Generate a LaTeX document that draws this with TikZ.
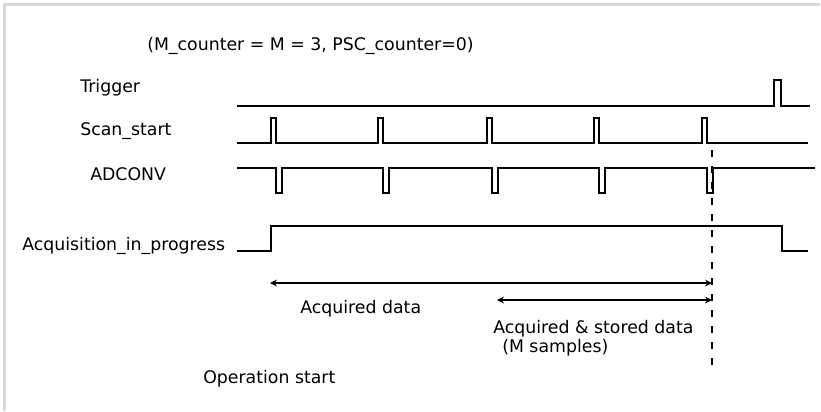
\documentclass[tikz,border=0pt]{standalone}
\usepackage{fontspec}
\setmainfont{DejaVu Sans}
\begin{document}
\begin{tikzpicture}[x=0.75pt,y=-0.75pt,
    wave/.style={line width=1.3pt,line join=miter},
    lbl/.style={anchor=base west,inner sep=0pt},
    span/.style={line width=1.3pt,<->,>=stealth},
    marker/.style={line width=1.3pt,dash pattern=on 5pt off 7pt}]
                        \useasboundingbox (0,0) rectangle (821,411);
                        {\fontsize{13}{15}\selectfont

                        % Drawing frame
                        \fill [gray!30] (3,3) rectangle (820,6);%
                        \fill [gray!30] (3,3) rectangle (6,411);%

                        % Marking title
                        \draw (147,50) node (title) [lbl] {(M\_counter = M = 3, PSC\_counter=0)};%

                        % Marking signal names
                        \draw (80,92) node (trigname) [lbl] {Trigger};%
                        \draw (80,135) node (scanname) [lbl] {Scan\_start};%
                        \draw (90,180) node (adcname) [lbl] {ADCONV};%
                        \draw (22,250) node (acqname) [lbl] {Acquisition\_in\_progress};%

                        % Drawing line Trigger
                        \draw [wave] (237,106) -- (774,106) -- (774,80) -- (781,80) -- (781,106) -- (810,106);%

                        % Drawing line Scan_start
                        \draw [wave] (237,143) -- (271,143) -- (271,118) -- (276,118) -- (276,143)
                            -- (378,143) -- (378,118) -- (383,118) -- (383,143)
                            -- (487,143) -- (487,118) -- (492,118) -- (492,143)
                            -- (594,143) -- (594,118) -- (599,118) -- (599,143)
                            -- (702,143) -- (702,118) -- (707,118) -- (707,143) -- (808,143);%

                        % Drawing line ADCONV
                        \draw [wave] (237,168) -- (276,168) -- (276,193) -- (282,193) -- (282,168)
                            -- (383,168) -- (383,193) -- (389,193) -- (389,168)
                            -- (492,168) -- (492,193) -- (498,193) -- (498,168)
                            -- (599,168) -- (599,193) -- (605,193) -- (605,168)
                            -- (707,168) -- (707,193) -- (713,193) -- (713,168) -- (815,168);%

                        % Drawing line Acquisition_in_progress
                        \draw [wave] (237,251) -- (271,251) -- (271,226) -- (782,226) -- (782,251) -- (808,251);%

                        % Drawing dashed marker
                        \coordinate (marktop) at (712,150);%
                        \coordinate (markbot) at (712,368);%
                        \draw [marker] (marktop) -- (markbot);%

                        % Drawing span acquired
                        \coordinate (acqleft) at (270,283);%
                        \coordinate (acqright) at (712,283);%
                        \draw [span] (acqleft) -- (acqright);%

                        % Drawing span stored
                        \coordinate (stoleft) at (497,300);%
                        \coordinate (storight) at (712,300);%
                        \draw [span] (stoleft) -- (storight);%

                        % Marking span labels
                        \draw (300,313) node (acqtext) [lbl] {Acquired data};%
                        \draw (493,333) node (stotext) [lbl] {Acquired \& stored data};%
                        \draw (502,352) node (samptext) [lbl] {(M samples)};%

                        % Marking operation start
                        \draw (203,383) node (optext) [lbl] {Operation start};%
                        }
\end{tikzpicture}
\end{document}
